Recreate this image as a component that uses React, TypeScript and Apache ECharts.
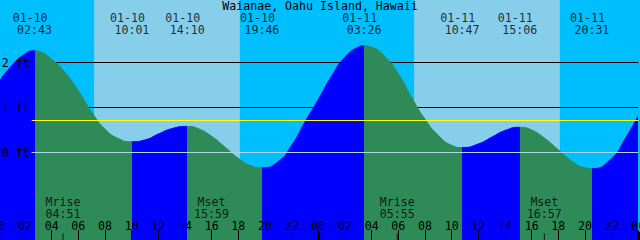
import React, { useEffect, useRef } from 'react';
import * as echarts from 'echarts';

const MONO = '"DejaVu Sans Mono", monospace';
const FS = 11.6;

const chartTitle = 'Waianae, Oahu Island, Hawaii';

// Tide curve (hours since 01-10 00:00, feet)
const curveHours = [
  0, 1, 2, 2.717, 3, 4, 5, 6, 7, 8, 9, 10.017, 11, 12, 13, 14.167, 15, 16, 17, 18, 19, 19.767,
  21, 22, 23, 24, 25, 26, 27, 27.433, 28, 29, 30, 31, 32, 33, 34, 34.783, 36, 37, 38, 39.1,
  40, 41, 42, 43, 44, 44.517, 46, 47, 48,
];
const curveFeet = [
  1.55, 1.93, 2.19, 2.26, 2.25, 2.07, 1.78, 1.37, 0.9, 0.52, 0.31, 0.24, 0.28, 0.41, 0.53, 0.58, 0.53, 0.36, 0.12, -0.13, -0.3, -0.34,
  -0.2, 0.16, 0.68, 1.18, 1.7, 2.12, 2.34, 2.37, 2.34, 2.13, 1.75, 1.22, 0.74, 0.38, 0.16, 0.11, 0.19, 0.34, 0.49, 0.56,
  0.5, 0.31, 0.06, -0.19, -0.34, -0.36, -0.13, 0.3, 0.82,
];

// High / low tide events
const tideEventHours = [2.717, 10.017, 14.167, 19.767, 27.433, 34.783, 39.1, 44.517];
const tideEventKinds = ['high', 'low', 'high', 'low', 'high', 'low', 'high', 'low'];
const tideEventDates = ['01-10', '01-10', '01-10', '01-10', '01-11', '01-11', '01-11', '01-11'];
const tideEventClocks = ['02:43', '10:01', '14:10', '19:46', '03:26', '10:47', '15:06', '20:31'];

// Daylight
const sunriseHours = [7.183, 31.183];
const sunsetHours = [18.117, 42.117];

// Moon
const moonEventHours = [4.85, 15.983, 29.917, 40.95];
const moonEventNames = ['Mrise', 'Mset', 'Mrise', 'Mset'];
const moonEventClocks = ['04:51', '15:59', '05:55', '16:57'];

// Reference levels
const gridLineFeet = [1, 2];
const meanLevelFeet = 0.71;
const datumFeet = 0;
const yLabelFeet = [0, 1, 2];

const NIGHT = '#00BFFF';
const DAY = '#87CEEB';
const RISING = '#0000FF';
const FALLING = '#2E8B57';

const DATE_ROW = 3.0;
const TIME_ROW = 2.72;
const MOON_TICK_ROW = -1.876;
const LINE_START = 2.5;

function buildPieces() {
  const bounds = [0, ...tideEventHours, 48];
  const pieces: any[] = [];
  for (let i = 0; i < bounds.length - 1; i++) {
    let rising: boolean;
    if (i < tideEventKinds.length) rising = tideEventKinds[i] === 'high';
    else rising = tideEventKinds[tideEventKinds.length - 1] === 'low';
    const p: any = { gte: bounds[i], color: rising ? RISING : FALLING };
    if (i === bounds.length - 2) p.lte = bounds[i + 1];
    else p.lt = bounds[i + 1];
    pieces.push(p);
  }
  return pieces;
}

export default function App() {
  const ref = useRef<HTMLDivElement>(null);
  useEffect(() => {
    if (!ref.current) return;
    const chart = echarts.init(ref.current, undefined, { renderer: 'svg' });
    const textBase = { color: '#000', fontFamily: MONO, fontSize: FS, lineHeight: 11 };
    const option: any = {
      animation: false,
      backgroundColor: NIGHT,
      title: {
        text: chartTitle,
        left: 'center',
        top: 0,
        padding: 0,
        textStyle: { ...textBase, fontWeight: 'normal' },
      },
      grid: {
        left: -1.67,
        right: 1.67,
        top: -0.5,
        bottom: -2.5,
        containLabel: false,
        outerBoundsMode: 'none',
      },
      xAxis: [
        {
          type: 'value',
          min: 0,
          max: 48,
          interval: 2,
          z: 10,
          position: 'bottom',
          axisLine: { show: false, onZero: false },
          splitLine: { show: false },
          axisTick: { show: true, inside: true, length: 12.5, lineStyle: { color: '#000', width: 1 } },
          axisLabel: {
            inside: true,
            margin: 11,
            ...textBase,
            formatter: (v: number) => String(v % 24).padStart(2, '0'),
          },
        },
        {
          type: 'value',
          min: 0,
          max: 48,
          interval: 24,
          z: 10,
          position: 'bottom',
          axisLine: { show: false, onZero: false },
          splitLine: { show: false },
          axisLabel: { show: false },
          axisTick: { show: true, inside: true, length: 10.8, lineStyle: { color: '#000', width: 3.3 } },
        },
      ],
      yAxis: {
        type: 'value',
        min: -2,
        max: 3.4,
        interval: 1,
        z: 10,
        axisLine: { show: false, onZero: false },
        axisTick: { show: false },
        splitLine: { show: false },
        axisLabel: {
          inside: true,
          margin: 3.4,
          ...textBase,
          formatter: (v: number) => (yLabelFeet.includes(v) ? `${v} ft` : ''),
        },
      },
      visualMap: {
        show: false,
        type: 'piecewise',
        dimension: 0,
        seriesIndex: 0,
        pieces: buildPieces(),
      },
      series: [
        {
          type: 'line',
          z: 2,
          data: curveHours.map((h, i) => [h, curveFeet[i]]),
          smooth: 0.55,
          symbol: 'none',
          lineStyle: { width: 1 },
          areaStyle: { opacity: 1, origin: 'start' },
          silent: true,
          markArea: {
            silent: true,
            z: 0,
            itemStyle: { color: DAY },
            data: sunriseHours.map((s, i) => [{ xAxis: s }, { xAxis: sunsetHours[i] }]),
          },
          markLine: {
            silent: true,
            z: 1,
            symbol: ['none', 'none'],
            label: { show: false },
            lineStyle: { color: '#000', width: 1, type: 'solid' },
            data: gridLineFeet.map((f) => [{ coord: [LINE_START, f] }, { coord: [48, f] }]),
          },
        },
        {
          type: 'scatter',
          z: 6,
          silent: true,
          symbolSize: 0,
          data: tideEventHours.map((h) => [h, DATE_ROW]),
          label: {
            show: true,
            position: 'inside',
            offset: [-4.4, 0],
            ...textBase,
            formatter: (p: any) => tideEventDates[p.dataIndex],
          },
          markLine: {
            silent: true,
            symbol: ['none', 'none'],
            label: { show: false },
            lineStyle: { width: 1, type: 'solid' },
            data: [
              [{ coord: [LINE_START, meanLevelFeet], lineStyle: { color: '#FFFF00', width: 1, type: 'solid' } }, { coord: [48, meanLevelFeet] }],
              [{ coord: [LINE_START, datumFeet], lineStyle: { color: '#ADD8E6', width: 1, type: 'solid' } }, { coord: [48, datumFeet] }],
            ],
          },
        },
        {
          type: 'scatter',
          z: 6,
          silent: true,
          symbolSize: 0,
          data: tideEventHours.map((h) => [h, TIME_ROW]),
          label: {
            show: true,
            position: 'inside',
            offset: [0, 0],
            ...textBase,
            formatter: (p: any) => tideEventClocks[p.dataIndex],
          },
        },
        {
          type: 'scatter',
          z: 6,
          silent: true,
          symbol: 'rect',
          symbolSize: [1, 7],
          itemStyle: { color: '#000' },
          data: moonEventHours.map((h) => [h, MOON_TICK_ROW]),
          label: {
            show: true,
            position: 'inside',
            offset: [0, -28.8],
            ...textBase,
            lineHeight: 12,
            formatter: (p: any) => `${moonEventNames[p.dataIndex]}\n${moonEventClocks[p.dataIndex]}`,
          },
        },
      ],
    };
    chart.setOption(option);
    return () => chart.dispose();
  }, []);
  return <div ref={ref} style={{ position: 'fixed', left: 0, top: 0, width: 640, height: 240 }} />;
}
